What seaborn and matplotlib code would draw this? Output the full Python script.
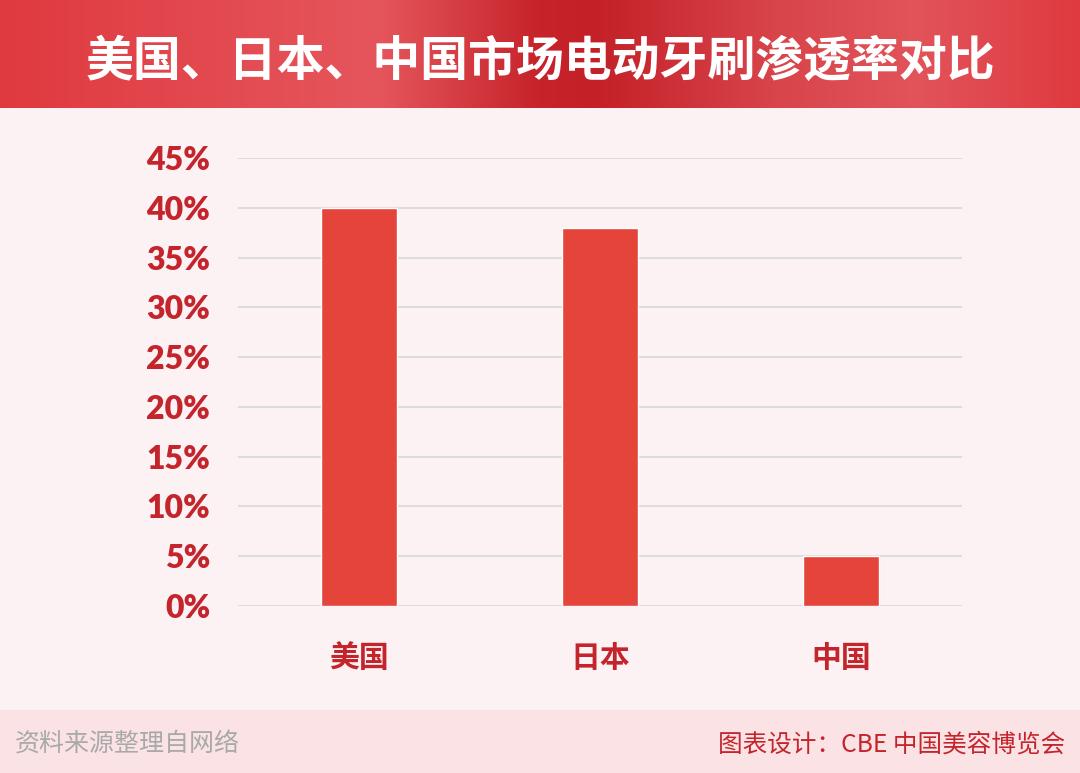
import numpy as np
import pandas as pd
import matplotlib
matplotlib.use("Agg")
import matplotlib.pyplot as plt
from matplotlib.colors import LinearSegmentedColormap
from matplotlib.ticker import FuncFormatter
import seaborn as sns

categories = ["美国", "日本", "中国"]
values = [0.40, 0.38, 0.05]
yticks = [0, 0.05, 0.10, 0.15, 0.20, 0.25, 0.30, 0.35, 0.40, 0.45]
title = "美国、日本、中国市场电动牙刷渗透率对比"
source = "资料来源整理自网络"
credit = "图表设计：CBE 中国美容博览会"

sns.set_theme(style="white")
plt.rcParams['font.family'] = ['Noto Sans CJK SC', 'DejaVu Sans']

W, H = 1080, 773
fig = plt.figure(figsize=(W / 100, H / 100), dpi=100)
fig.patch.set_facecolor("#FCF2F3")

# header gradient band
hdr_h = 108
hax = fig.add_axes([0, 1 - hdr_h / H, 1, hdr_h / H])
cmap = LinearSegmentedColormap.from_list(
    "hdr",
    [(0.0, "#DF3A40"), (0.35, "#E5565C"), (0.5, "#C6232A"), (0.55, "#C42027"),
     (0.72, "#D8454B"), (0.85, "#E2535A"), (1.0, "#DF3A40")])
hax.imshow(np.linspace(0, 1, 512)[None, :], aspect="auto", cmap=cmap,
           extent=[0, 1, 0, 1])
hax.set_axis_off()
hax.text(0.5, 0.43, title, color="white", fontsize=34.5, fontweight="bold",
         ha="center", va="center", transform=hax.transAxes)

# footer band
ftr_h = 63
fax = fig.add_axes([0, 0, 1, ftr_h / H])
fax.set_facecolor("#FBE3E5")
fax.set_xticks([]); fax.set_yticks([])
for s in fax.spines.values():
    s.set_visible(False)
fax.text(15 / W, 0.45, source, color="#A9A9A9", fontsize=18,
         ha="left", va="center", transform=fax.transAxes)
fax.text(1 - 15 / W, 0.45, credit, color="#C4242B", fontsize=17.7,
         ha="right", va="center", transform=fax.transAxes)

# main chart
ax = fig.add_axes([238 / W, (H - 606) / H, (962 - 238) / W, (606 - 158) / H])
ax.set_facecolor("none")
df = pd.DataFrame({"country": categories, "rate": values})
sns.barplot(data=df, x="country", y="rate", color="#E5443B", width=0.315,
            saturation=1, ax=ax)
ax.set_xlim(-0.5, 2.5)
ax.set_ylim(0, 0.45)
ax.set_yticks(yticks)
ax.yaxis.set_major_formatter(FuncFormatter(lambda v, p: f"{v * 100:.0f}%"))
ax.grid(axis="y", color="#DCDCDC", linewidth=1.5)
ax.set_axisbelow(True)
for s in ax.spines.values():
    s.set_visible(False)
ax.tick_params(axis="y", length=0, pad=20, labelsize=23, labelcolor="#C4242B")
ax.tick_params(axis="x", length=0, pad=27, labelsize=21.5, labelcolor="#C4242B")
for lab in ax.get_yticklabels():
    lab.set_fontweight("heavy")
    lab.set_family(["Lato", "DejaVu Sans"])
for lab in ax.get_xticklabels():
    lab.set_fontweight("bold")
ax.set_xlabel("")
ax.set_ylabel("")

fig.savefig("out.png", dpi=100)
